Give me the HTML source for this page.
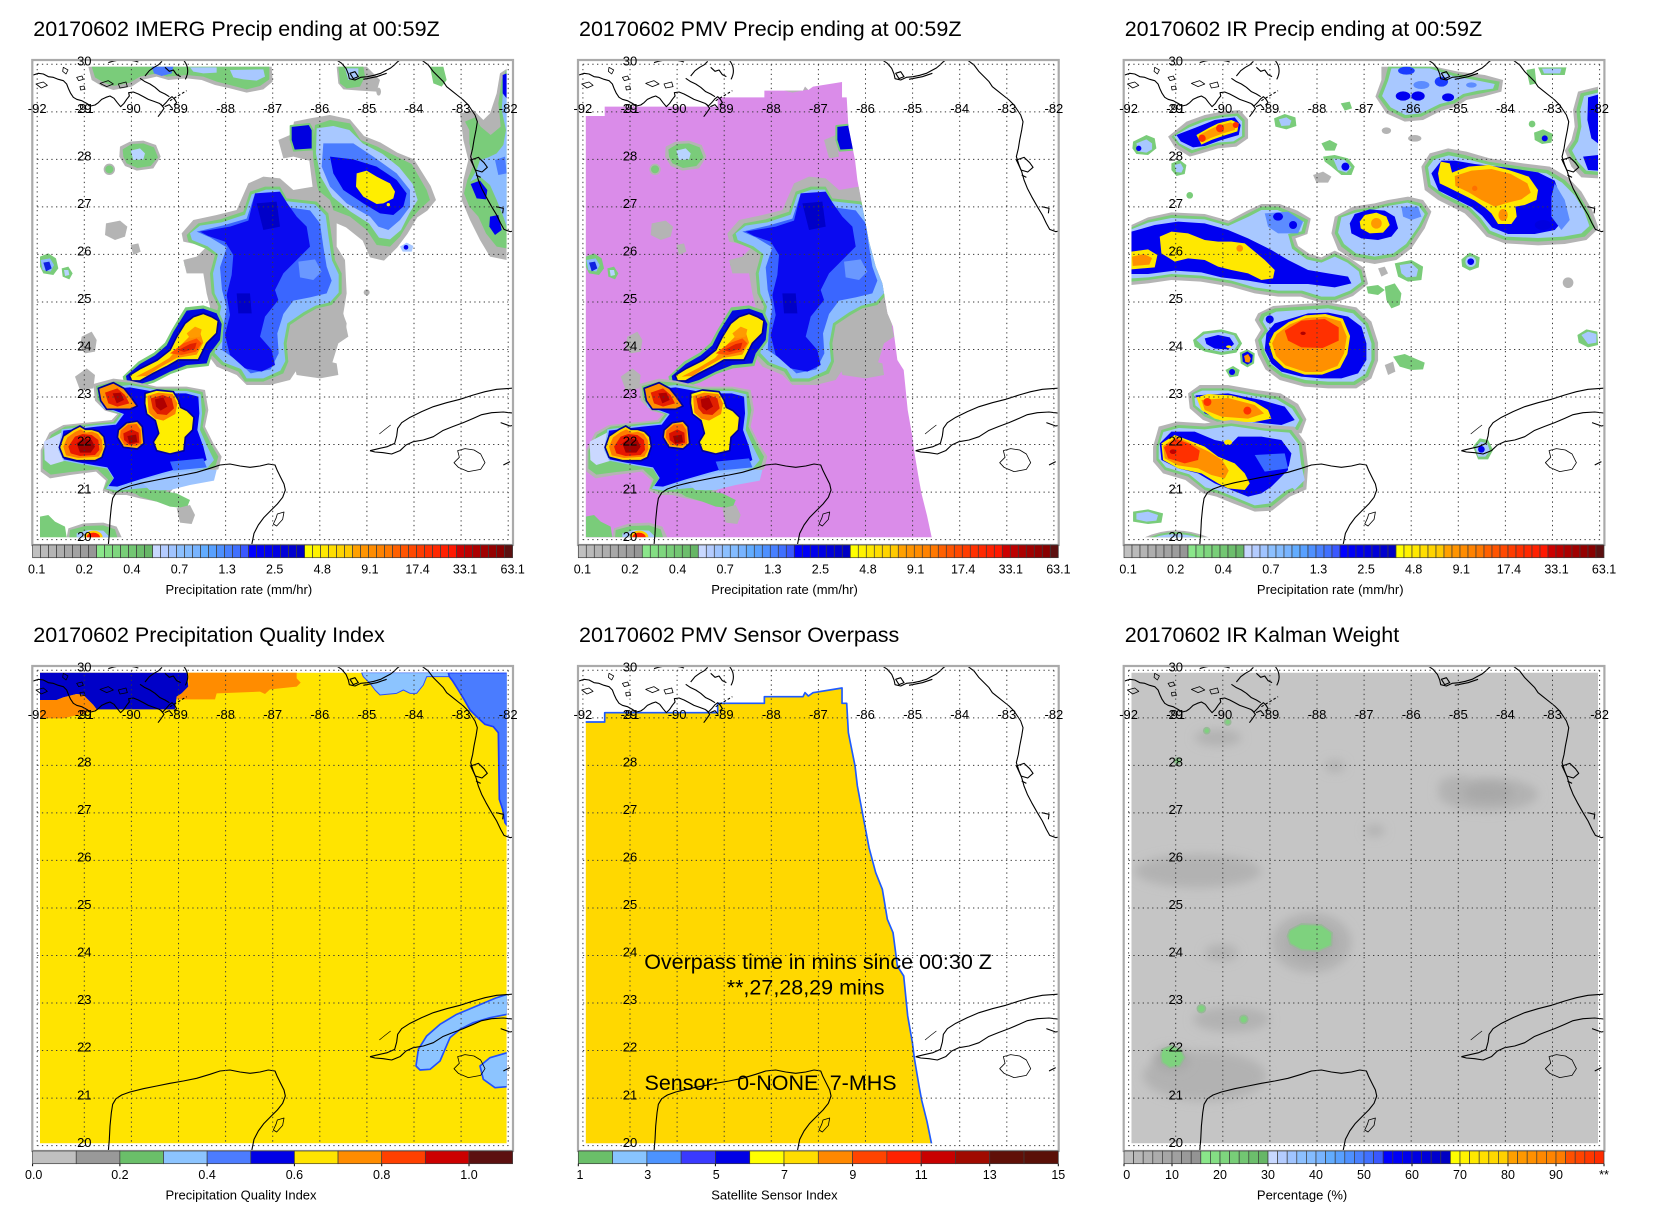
<!DOCTYPE html>
<html><head><meta charset="utf-8"><style>html,body{margin:0;padding:0;background:#fff}svg{display:block}</style></head><body>
<svg xmlns="http://www.w3.org/2000/svg" width="1653" height="1212" viewBox="0 0 1653 1212" font-family="'Liberation Sans', Arial, sans-serif">
<defs>
<clipPath id="dclip"><rect x="30" y="20" width="1400" height="1412"/></clipPath>
<clipPath id="cclip"><rect x="3" y="3" width="1443" height="1452"/></clipPath>
<clipPath id="swclip"><path d="M30,168 L87,168 L87,140 L426,140 L426,112 L566,112 L566,92 L682,92 L688,80 L698,90 L712,80 L799,66 L799,112 L813,112 L818,200 L838,300 L845,360 L862,450 L880,545 L900,620 L920,670 L935,760 L952,800 L965,900 L984,930 L996,1050 L1010,1130 L1016,1177 L1030,1260 L1038,1303 L1054,1367 L1068,1432 L30,1432 Z"/></clipPath>
<filter id="bl" x="-50%" y="-50%" width="200%" height="200%"><feGaussianBlur stdDeviation="14"/></filter>

<g id="coast" fill="none" stroke="#000" stroke-width="3.3" stroke-linejoin="round">
<path d="M10,45 L25,40 L40,42 L55,50 L70,52 L85,58 L100,62 L110,72 L115,85 L122,100 L130,112 L140,118 L155,122 L170,130 L182,138 L195,135 L205,128 L215,118 L228,112 L240,108 L252,115 L262,128 L272,140 L282,130 L290,118 L298,108 L296,98 L310,96 L325,102 L340,110 L355,118 L372,124 L388,130 L398,138 L408,128 L418,116 L426,110 L434,118 L440,128 L432,135"/>
<path d="M392,132 L402,145 L394,157 L384,170 M404,140 L418,134 L428,146"/>
<path d="M330,55 L345,65 L360,72 L375,82 L390,95 L405,102 L418,110"/>
<path d="M18,72 L40,66 L52,76 L34,84 Z M100,22 L114,30 L108,42 L98,34 Z M140,52 L156,48 L160,58 L146,62 Z M150,80 L162,78 L165,88 L152,90 Z M210,70 L235,62 L250,72 L230,80 Z M265,72 L288,66 L292,80 L270,84 Z" stroke-width="2.4"/>
<path d="M235,8 Q280,-8 325,6 M345,48 L358,32 L372,22 L386,14 L396,4 M405,22 L418,34 L430,30 L440,44 L452,50 M462,2 Q482,28 466,58"/>
<path d="M420,122 L470,92" stroke-dasharray="8 6"/>
<path d="M920,0 L935,10 L948,25 L955,42 L958,56 L975,60 L992,52 L1012,50 L1032,46 L1052,40 L1067,32 L1082,24 L1094,14 L1102,6 L1110,0"/>
<path d="M960,40 L975,35 L985,50 L970,56 Z M1000,58 L1040,50 L1070,40"/>
<path d="M1175,0 L1195,15 L1210,35 L1225,50 L1240,65 L1250,80 L1265,92 L1285,108 L1300,120 L1315,135 L1325,150 L1335,165 L1342,185 L1338,210 L1332,240 L1328,265 L1322,290 L1330,315 L1338,335 L1345,360 L1355,385 L1368,410 L1385,440 L1400,465 L1412,490 L1422,508 L1440,515 L1455,512"/>
<path d="M1322,300 L1345,292 L1362,308 L1372,322 L1356,336 L1336,330 Z M1338,345 L1352,352 M1398,440 L1420,445 L1418,460"/>
<path d="M235,1455 L238,1420 L240,1380 L244,1340 L248,1315 L258,1298 L275,1287 L300,1278 L340,1268 L380,1260 L420,1252 L460,1245 L500,1237 L540,1225 L570,1215 L600,1212 L630,1218 L660,1222 L690,1218 L715,1212 L735,1215 L742,1232 L752,1252 L762,1272 L766,1290 L758,1312 L742,1332 L722,1352 L702,1372 L685,1395 L672,1420 L665,1455"/>
<path d="M742,1362 L762,1356 L758,1378 L740,1398 L730,1392 L738,1375 Z" stroke-width="2.4"/>
<path d="M1020,1172 L1045,1166 L1072,1160 L1094,1150 L1100,1128 L1103,1105 L1115,1088 L1140,1072 L1175,1055 L1210,1040 L1250,1028 L1290,1018 L1330,1005 L1365,995 L1400,988 L1455,984"/>
<path d="M1455,1060 L1420,1056 L1385,1058 L1355,1064 L1330,1075 L1300,1088 L1268,1100 L1238,1112 L1210,1130 L1180,1140 L1150,1145 L1128,1155 L1110,1172 L1085,1182 L1060,1178 L1035,1176 L1020,1172"/>
<path d="M1048,1122 L1065,1108 L1082,1095" stroke-width="2"/>
<path d="M1412,1088 L1440,1098 L1455,1095 M1420,1215 L1440,1205"/>
<path d="M1283,1172 L1305,1166 L1332,1170 L1352,1182 L1365,1208 L1352,1228 L1315,1235 L1285,1222 L1272,1208 L1288,1192 Z" stroke-width="2.4"/>
</g>

<g id="grid" fill="none" stroke="#3a3a3a" stroke-width="1" stroke-dasharray="1.3 3.4">
<path d="M37.2,64.3V539.6M84.3,64.3V539.6M131.4,64.3V539.6M178.5,64.3V539.6M225.6,64.3V539.6M272.7,64.3V539.6M319.8,64.3V539.6M366.9,64.3V539.6M414,64.3V539.6M461.1,64.3V539.6M508.2,64.3V539.6"/>
<path d="M37.2,64.3H508.2M37.2,111.83H508.2M37.2,159.36H508.2M37.2,206.89H508.2M37.2,254.42H508.2M37.2,301.95H508.2M37.2,349.48H508.2M37.2,397.01H508.2M37.2,444.54H508.2M37.2,492.07H508.2M37.2,539.6H508.2"/>
</g>

<g id="box"><rect x="32.3" y="60" width="480.7" height="485" fill="none" stroke="#aaaaaa" stroke-width="2.2"/></g>

<g id="cbP" stroke="#3c3c3c" stroke-width="0.7">
<rect x="32.6" y="545" width="8" height="12.7" fill="#c0c0c0"/><rect x="40.6" y="545" width="8" height="12.7" fill="#bababa"/><rect x="48.6" y="545" width="8" height="12.7" fill="#b4b4b4"/><rect x="56.6" y="545" width="8" height="12.7" fill="#aeaeae"/><rect x="64.6" y="545" width="8" height="12.7" fill="#a8a8a8"/><rect x="72.6" y="545" width="8" height="12.7" fill="#a2a2a2"/><rect x="80.6" y="545" width="8" height="12.7" fill="#9c9c9c"/><rect x="88.6" y="545" width="8" height="12.7" fill="#969696"/>
<rect x="96.6" y="545" width="8" height="12.7" fill="#8ae68a"/><rect x="104.6" y="545" width="8" height="12.7" fill="#84de84"/><rect x="112.6" y="545" width="8" height="12.7" fill="#7ed67e"/><rect x="120.6" y="545" width="8" height="12.7" fill="#78ce78"/><rect x="128.6" y="545" width="8" height="12.7" fill="#72c672"/><rect x="136.6" y="545" width="8" height="12.7" fill="#6cbe6c"/><rect x="144.6" y="545" width="8" height="12.7" fill="#66b666"/>
<rect x="152.6" y="545" width="8" height="12.7" fill="#c8d8ff"/><rect x="160.6" y="545" width="8" height="12.7" fill="#b4ccff"/><rect x="168.6" y="545" width="8" height="12.7" fill="#a0c4ff"/><rect x="176.6" y="545" width="8" height="12.7" fill="#8cc0ff"/><rect x="184.6" y="545" width="8" height="12.7" fill="#84bcff"/><rect x="192.6" y="545" width="8" height="12.7" fill="#78b4ff"/><rect x="200.6" y="545" width="8" height="12.7" fill="#62acff"/><rect x="208.6" y="545" width="8" height="12.7" fill="#58a0ff"/><rect x="216.6" y="545" width="8" height="12.7" fill="#4e90ff"/><rect x="224.6" y="545" width="8" height="12.7" fill="#4880ff"/><rect x="232.6" y="545" width="8" height="12.7" fill="#4070ff"/><rect x="240.6" y="545" width="8" height="12.7" fill="#3a58ff"/>
<rect x="248.6" y="545" width="8" height="12.7" fill="#0000ff"/><rect x="256.6" y="545" width="8" height="12.7" fill="#0000f6"/><rect x="264.6" y="545" width="8" height="12.7" fill="#0000ec"/><rect x="272.6" y="545" width="8" height="12.7" fill="#0000e2"/><rect x="280.6" y="545" width="8" height="12.7" fill="#0000d8"/><rect x="288.6" y="545" width="8" height="12.7" fill="#0000ce"/><rect x="296.6" y="545" width="8" height="12.7" fill="#0000c4"/>
<rect x="304.6" y="545" width="8" height="12.7" fill="#ffff00"/><rect x="312.6" y="545" width="8" height="12.7" fill="#fff200"/><rect x="320.6" y="545" width="8" height="12.7" fill="#ffe800"/><rect x="328.6" y="545" width="8" height="12.7" fill="#ffde00"/><rect x="336.6" y="545" width="8" height="12.7" fill="#ffd400"/><rect x="344.6" y="545" width="8" height="12.7" fill="#ffca00"/>
<rect x="352.6" y="545" width="8" height="12.7" fill="#ffa000"/><rect x="360.6" y="545" width="8" height="12.7" fill="#ff9400"/><rect x="368.6" y="545" width="8" height="12.7" fill="#ff8c00"/><rect x="376.6" y="545" width="8" height="12.7" fill="#ff8200"/><rect x="384.6" y="545" width="8" height="12.7" fill="#ff7800"/>
<rect x="392.6" y="545" width="8" height="12.7" fill="#ff6000"/><rect x="400.6" y="545" width="8" height="12.7" fill="#ff5400"/><rect x="408.6" y="545" width="8" height="12.7" fill="#ff4800"/><rect x="416.6" y="545" width="8" height="12.7" fill="#ff3c00"/><rect x="424.6" y="545" width="8" height="12.7" fill="#ff3000"/><rect x="432.6" y="545" width="8" height="12.7" fill="#ff2800"/><rect x="440.6" y="545" width="8" height="12.7" fill="#ff2000"/><rect x="448.6" y="545" width="8" height="12.7" fill="#ff1800"/>
<rect x="456.6" y="545" width="8" height="12.7" fill="#cc0000"/><rect x="464.6" y="545" width="8" height="12.7" fill="#bc0000"/><rect x="472.6" y="545" width="8" height="12.7" fill="#ac0000"/><rect x="480.6" y="545" width="8" height="12.7" fill="#a00000"/><rect x="488.6" y="545" width="8" height="12.7" fill="#940000"/><rect x="496.6" y="545" width="8" height="12.7" fill="#880000"/><rect x="504.6" y="545" width="8" height="12.7" fill="#5c1010"/>
</g>

<g id="main" stroke-linejoin="round">
<path fill="#b4b4b4" d="M175,20 L725,20 L728,65 L700,88 L650,98 L600,85 L555,75 L515,60 L470,55 L415,60 L380,50 L335,60 L305,80 L250,90 L215,78 L185,60 Z"/>
<path fill="#7acc7a" d="M185,20 L718,20 L718,58 L690,78 L650,88 L600,75 L560,65 L520,50 L470,45 L410,50 L380,40 L330,50 L300,68 L250,78 L222,68 L195,52 Z"/>
<path fill="#a8c8ff" d="M600,30 L700,28 L705,50 L680,62 L640,58 L610,52 Z"/>
<path fill="#a8c8ff" d="M480,22 L560,22 L560,38 L520,40 L490,35 Z"/>
<path fill="#4a78ff" d="M365,20 L430,20 L425,40 L395,48 L372,40 Z"/>
<path fill="#b4b4b4" d="M270,260 L300,245 L340,242 L378,255 L392,290 L370,325 L320,332 L285,318 L268,290 Z"/>
<path fill="#7acc7a" d="M278,268 L305,252 L340,250 L372,262 L384,292 L362,318 L322,324 L290,310 L280,290 Z"/>
<path fill="#b8d4ff" d="M302,272 L330,265 L345,280 L340,298 L310,300 Z"/>
<circle fill="#b4b4b4" cx="238" cy="328" r="17"/><circle fill="#7acc7a" cx="238" cy="328" r="12"/>
<path fill="#b4b4b4" d="M228,490 L270,482 L292,500 L285,530 L255,540 L225,525 Z"/>
<path fill="#b4b4b4" d="M302,555 L325,550 L332,575 L310,585 Z"/>
<path fill="#7acc7a" d="M30,590 L55,580 L78,595 L85,625 L70,645 L40,640 L30,620 Z"/>
<path fill="#8cb8ff" d="M32,600 L60,595 L72,615 L62,635 L38,630 Z"/>
<path fill="#1020e0" d="M40,608 L58,605 L65,625 L48,634 Z"/>
<path fill="#7acc7a" d="M95,625 L115,620 L128,640 L118,658 L98,650 Z"/>
<path fill="#b8d4ff" d="M102,630 L115,630 L118,645 L105,648 Z"/>
<circle fill="#7acc7a" cx="475" cy="612" r="12"/>
<path fill="#b4b4b4" d="M155,830 L185,815 L200,840 L195,875 L165,880 L150,860 Z"/>
<path fill="#b4b4b4" d="M135,950 L170,925 L195,945 L190,985 L150,990 Z"/>
<path fill="#b4b4b4" d="M890,755 L935,750 L950,790 L945,830 L905,835 L892,800 Z"/>
<path fill="#b4b4b4" d="M790,905 L860,895 L920,910 L925,945 L870,955 L800,945 Z"/>
<path fill="#b4b4b4" d="M745,240 L780,225 L790,290 L760,295 Z"/>
<path fill="#0000e0" stroke="#7acc7a" stroke-width="6" d="M782,198 L838,192 L848,210 L848,268 L792,272 L782,240 Z"/>
<path fill="#b4b4b4" d="M455,520 L490,480 L560,465 L620,450 L655,370 L700,350 L750,355 L790,390 L850,380 L900,420 L920,480 L920,560 L945,600 L950,700 L940,760 L955,830 L925,850 L900,930 L870,950 L800,930 L780,960 L720,975 L650,975 L620,945 L560,920 L530,880 L540,820 L540,740 L530,700 L520,640 L470,640 L460,600 L500,590 L530,560 L460,545 Z"/>
<path fill="#7acc7a" d="M470,525 L505,490 L570,478 L640,455 L660,395 L705,380 L750,380 L770,415 L860,425 L895,460 L905,530 L915,600 L935,640 L935,700 L905,735 L860,745 L825,765 L780,795 L770,850 L775,905 L760,940 L700,965 L645,965 L625,935 L575,915 L545,885 L553,820 L555,780 L565,740 L545,700 L540,640 L555,585 L525,565 L475,545 Z"/>
<path fill="#8cbcff" d="M480,520 L510,497 L575,487 L645,464 L665,403 L708,389 L748,389 L764,423 L855,433 L887,466 L896,533 L906,601 L926,643 L926,698 L900,727 L857,737 L820,757 L772,790 L761,850 L766,903 L751,932 L700,955 L650,955 L633,927 L581,907 L554,879 L562,820 L564,780 L574,740 L554,700 L549,640 L564,583 L533,559 L486,540 Z"/>
<path fill="#3a66ff" d="M500,515 L580,496 L650,476 L672,410 L745,401 L760,440 L840,451 L870,490 L880,560 L890,620 L905,662 L890,700 L840,712 L790,722 L760,762 L742,820 L746,880 L722,928 L662,940 L622,902 L576,870 L580,800 L590,742 L576,690 L570,622 L590,562 L540,532 Z"/>
<path fill="#0a0af0" d="M510,515 L600,500 L655,482 L675,400 L750,395 L772,430 L800,470 L830,500 L840,560 L800,600 L760,640 L735,690 L745,720 L705,770 L690,830 L725,870 L735,915 L695,935 L645,925 L600,885 L585,825 L600,765 L590,705 L605,645 L610,585 L585,545 L535,528 Z"/>
<path fill="#6a98ff" d="M805,605 L855,598 L875,635 L850,660 L810,652 Z"/>
<path fill="#0000c8" d="M620,700 L660,700 L665,760 L625,760 Z"/>
<path fill="#0000c8" d="M680,430 L740,425 L750,500 L700,510 Z"/>
<path fill="#7acc7a" d="M278,950 L325,905 L372,878 L405,848 L425,810 L450,768 L466,742 L520,736 L565,752 L582,790 L576,845 L546,885 L536,918 L472,925 L422,942 L372,968 L325,982 L284,978 Z"/>
<path fill="#0008e0" d="M288,948 L330,912 L375,886 L410,856 L430,816 L455,776 L470,752 L520,746 L560,760 L575,792 L570,840 L540,880 L530,910 L470,915 L420,935 L370,960 L325,974 L292,970 Z"/>
<path fill="#ffe800" stroke="#00009a" stroke-width="5" d="M298,946 L332,925 L382,900 L420,870 L440,830 L465,790 L490,770 L520,760 L545,770 L565,782 L560,820 L530,850 L515,880 L505,900 L445,900 L410,920 L370,940 L330,963 L305,963 Z"/>
<path fill="#ff8c00" d="M318,950 L368,924 L418,894 L448,860 L478,830 L508,810 L520,848 L500,884 L440,894 L390,922 L350,948 Z"/>
<path fill="#ff9a00" d="M470,820 L495,800 L515,808 L510,830 L480,835 Z"/>
<path fill="#ff5000" d="M420,880 L460,850 L500,835 L515,850 L498,875 L455,885 Z"/>
<path fill="#e02000" d="M445,870 L480,852 L500,848 L495,866 L462,876 Z"/>
<path fill="#b4b4b4" d="M100,1095 L200,1085 L245,1080 L262,1062 L225,1052 L195,1022 L190,972 L250,956 L300,962 L380,980 L470,980 L525,990 L535,1050 L525,1100 L550,1150 L575,1190 L565,1228 L500,1240 L462,1250 L422,1295 L380,1325 L330,1315 L290,1305 L250,1305 L218,1292 L228,1262 L198,1235 L120,1245 L60,1255 L32,1235 L32,1170 L58,1118 Z"/>
<path fill="#7acc7a" d="M105,1100 L200,1090 L250,1086 L268,1062 L228,1048 L202,1018 L198,978 L252,964 L300,968 L380,986 L470,986 L518,996 L527,1050 L518,1100 L542,1150 L565,1190 L555,1222 L498,1232 L458,1242 L418,1285 L378,1315 L332,1305 L292,1295 L252,1297 L222,1286 L234,1258 L202,1228 L122,1236 L62,1244 L38,1226 L38,1172 L64,1124 Z"/>
<path fill="#cad8ff" d="M42,1145 L100,1115 L112,1200 L62,1215 L44,1200 Z"/>
<path fill="#8cbcff" d="M95,1108 L200,1095 L255,1090 L276,1062 L215,1042 L208,985 L300,975 L400,993 L470,993 L512,1003 L516,1060 L510,1110 L532,1160 L552,1200 L532,1224 L472,1235 L412,1252 L400,1280 L330,1285 L262,1292 L228,1286 L250,1256 L232,1226 L150,1212 L100,1202 L85,1170 Z"/>
<path fill="#0000f0" d="M100,1112 L200,1100 L258,1094 L282,1062 L222,1040 L216,990 L300,982 L400,1000 L468,1000 L505,1010 L508,1060 L502,1110 L520,1160 L530,1200 L500,1215 L460,1222 L400,1238 L330,1258 L262,1280 L236,1278 L252,1254 L232,1222 L150,1208 L102,1198 L90,1170 Z"/>
<path fill="#9cc4ff" d="M330,1262 L420,1240 L520,1228 L560,1230 L552,1262 L480,1275 L420,1290 L360,1292 Z"/>
<path fill="#3a6cff" d="M420,1205 L520,1195 L530,1222 L430,1232 Z"/>
<path fill="#ffd000" stroke="#00009a" stroke-width="5" d="M88,1162 L100,1128 L130,1108 L150,1098 L166,1108 L186,1108 L206,1114 L222,1130 L227,1160 L216,1192 L196,1202 L140,1202 L100,1192 Z"/>
<path fill="#ff7a00" d="M100,1160 L112,1132 L135,1116 L152,1108 L168,1118 L186,1115 L204,1122 L216,1140 L218,1168 L206,1190 L145,1194 L108,1186 Z"/>
<path fill="#e81800" d="M115,1160 L135,1130 L158,1122 L185,1125 L205,1140 L208,1170 L195,1185 L150,1188 L122,1180 Z"/>
<path fill="#a00000" d="M140,1150 L160,1135 L185,1140 L195,1160 L182,1178 L150,1178 Z"/>
<path fill="#ff9000" stroke="#00009a" stroke-width="5" d="M205,985 L250,968 L282,985 L302,1010 L322,1038 L300,1048 L230,1048 L212,1022 Z"/>
<path fill="#e82000" d="M225,998 L262,985 L285,1005 L298,1030 L262,1040 L235,1030 Z"/>
<path fill="#b00000" d="M248,1000 L272,998 L282,1020 L260,1030 Z"/>
<path fill="#ffb000" stroke="#00009a" stroke-width="5" d="M265,1110 L290,1088 L322,1083 L337,1100 L342,1150 L322,1167 L280,1162 L262,1132 Z"/>
<path fill="#ff6000" d="M272,1112 L294,1094 L320,1092 L332,1110 L334,1150 L318,1158 L284,1155 L270,1132 Z"/>
<path fill="#d81000" d="M280,1120 L305,1108 L326,1118 L328,1148 L300,1155 L282,1140 Z"/>
<path fill="#a00000" d="M292,1128 L318,1124 L322,1146 L298,1150 Z"/>
<path fill="#ffee00" stroke="#00009a" stroke-width="5" d="M345,1000 L380,990 L430,995 L445,1020 L452,1042 L472,1052 L492,1072 L488,1110 L466,1132 L462,1172 L420,1182 L380,1172 L370,1146 L386,1120 L376,1082 L350,1062 L344,1030 Z"/>
<path fill="#ff8000" d="M352,1008 L385,998 L428,1002 L442,1030 L436,1062 L400,1082 L376,1076 L356,1058 Z"/>
<path fill="#e02000" d="M362,1015 L398,1005 L425,1015 L432,1045 L410,1065 L382,1062 L368,1045 Z"/>
<path fill="#b00000" d="M375,1018 L400,1012 L412,1040 L392,1052 L378,1040 Z"/>
<path fill="#7acc7a" d="M300,1290 L380,1290 L440,1300 L480,1320 L470,1345 L420,1340 L380,1325 L330,1310 Z"/>
<path fill="#b4b4b4" d="M440,1345 L480,1335 L495,1365 L485,1392 L450,1388 Z"/>
<path fill="#7acc7a" d="M30,1370 L55,1365 L75,1385 L105,1400 L110,1432 L30,1432 Z"/>
<path fill="#b4b4b4" d="M115,1405 L160,1390 L220,1388 L260,1400 L275,1432 L110,1432 Z"/>
<path fill="#7acc7a" d="M120,1410 L165,1398 L220,1396 L255,1408 L262,1432 L118,1432 Z"/>
<path fill="#a8c8ff" d="M140,1420 L175,1410 L220,1412 L240,1432 L140,1432 Z"/>
<path fill="#ffd000" d="M162,1432 A28,20 0 0 1 218,1432 Z"/>
<path fill="#ff2000" d="M170,1432 A20,14 0 0 1 210,1432 Z"/>
</g>

<g id="ne" stroke-linejoin="round">
<path fill="#b4b4b4" d="M790,290 L778,255 L792,185 L840,175 L900,165 L960,178 L1002,228 L1052,248 L1102,278 L1152,298 L1202,378 L1218,420 L1192,452 L1162,472 L1132,522 L1102,562 L1062,602 L1020,592 L998,542 L948,502 L878,472 L848,382 L838,302 Z"/>
<path fill="#7acc7a" d="M850,300 L848,262 L855,195 L900,180 L960,190 L992,240 L1042,260 L1100,290 L1145,312 L1190,390 L1200,420 L1167,450 L1140,480 L1110,530 L1080,560 L1040,555 L1010,510 L960,470 L882,440 L862,380 Z"/>
<path fill="#a8c8ff" d="M858,280 L860,205 L910,198 L958,210 L998,250 L1058,282 L1108,322 L1148,372 L1163,420 L1138,460 L1113,510 L1080,538 L1047,533 L1017,490 L962,455 L907,410 L872,350 Z"/>
<path fill="#4a7cff" d="M880,250 L970,250 L1030,290 L1100,340 L1140,390 L1140,440 L1110,480 L1075,510 L1045,500 L1020,470 L950,430 L900,380 L875,320 Z"/>
<path fill="#0000f0" d="M900,290 L970,298 L1040,320 L1100,360 L1130,400 L1120,440 L1090,465 L1050,460 L1000,430 L940,390 L910,340 Z"/>
<path fill="#ffee00" d="M980,340 L1010,332 L1040,350 L1080,370 L1095,395 L1090,415 L1060,430 L1040,432 L1000,410 L978,380 Z"/>
<circle fill="#ffee00" cx="1075" cy="434" r="5"/>
<path fill="#a8c8ff" d="M1110,560 L1130,548 L1150,558 L1145,575 L1118,575 Z"/><circle fill="#0000f0" cx="1128" cy="562" r="7"/>
<path fill="#b4b4b4" d="M920,20 L1010,20 L1050,60 L1040,95 L990,92 L940,88 L925,70 Z"/>
<path fill="#7acc7a" d="M925,20 L1000,20 L1005,50 L990,80 L950,85 L930,70 Z"/>
<path fill="#a8c8ff" d="M945,25 L985,25 L985,55 L955,60 Z"/>
<ellipse fill="#b4b4b4" cx="1046" cy="95" rx="7" ry="12"/>
<circle fill="#b4b4b4" cx="1010" cy="697" r="9"/>
<path fill="#7acc7a" d="M1200,20 L1240,20 L1250,60 L1235,80 L1210,70 Z"/>
</g>

<g id="fl" stroke-linejoin="round">
<path fill="#b4b4b4" d="M1290,160 L1330,150 L1360,180 L1380,160 L1400,100 L1410,40 L1440,20 L1430,20 L1430,600 L1380,590 L1350,540 L1320,480 L1295,420 L1300,360 L1315,300 L1300,240 L1295,200 Z"/>
<path fill="#7acc7a" d="M1305,185 L1335,172 L1352,200 L1382,225 L1412,200 L1405,130 L1415,60 L1430,28 L1430,565 L1400,560 L1368,520 L1345,470 L1318,440 L1302,400 L1312,360 L1332,310 L1318,250 L1318,210 Z"/>
<path fill="#8cbcff" d="M1320,365 L1350,350 L1380,375 L1400,420 L1420,470 L1430,500 L1430,40 L1420,80 L1415,150 L1428,210 L1420,255 L1400,280 L1375,292 L1350,300 L1340,330 Z"/>
<path fill="#0000f0" d="M1322,372 L1350,362 L1372,390 L1368,418 L1340,415 Z"/>
<path fill="#0000f0" d="M1380,470 L1405,465 L1415,510 L1395,525 L1378,500 Z"/>
<path fill="#0000f0" d="M1418,45 L1430,40 L1430,115 L1418,100 Z"/>
<path fill="#4a7cff" d="M1395,300 L1425,290 L1430,340 L1405,345 Z"/>
</g>
</defs>

<!-- PANEL 1 -->
<g>
<text x="33.3" y="36" font-size="21.5">20170602 IMERG Precip ending at 00:59Z</text>
<g transform="translate(30,60) scale(0.333333)">
<g clip-path="url(#dclip)"><use href="#ne"/><use href="#fl"/><use href="#main"/></g>
<g clip-path="url(#cclip)"><use href="#coast"/></g>
</g>
<use href="#grid"/><use href="#box"/>
<text font-size="13" text-anchor="middle"><tspan x="84.3" y="65.5">30</tspan><tspan x="84.3" y="113">29</tspan><tspan x="84.3" y="160.6">28</tspan><tspan x="84.3" y="208.1">27</tspan><tspan x="84.3" y="255.6">26</tspan><tspan x="84.3" y="303.2">25</tspan><tspan x="84.3" y="350.7">24</tspan><tspan x="84.3" y="398.2">23</tspan><tspan x="84.3" y="445.7">22</tspan><tspan x="84.3" y="493.3">21</tspan><tspan x="84.3" y="540.8">20</tspan></text>
<text font-size="13" text-anchor="middle"><tspan x="37.2" y="113">-92</tspan><tspan x="84.3" y="113">-91</tspan><tspan x="131.4" y="113">-90</tspan><tspan x="178.5" y="113">-89</tspan><tspan x="225.6" y="113">-88</tspan><tspan x="272.7" y="113">-87</tspan><tspan x="319.8" y="113">-86</tspan><tspan x="366.9" y="113">-85</tspan><tspan x="414" y="113">-84</tspan><tspan x="461.1" y="113">-83</tspan><tspan x="508.2" y="113">-82</tspan></text>
<use href="#cbP"/>
<text font-size="12.5" text-anchor="middle"><tspan x="36.7" y="573.5">0.1</tspan><tspan x="84.3" y="573.5">0.2</tspan><tspan x="131.9" y="573.5">0.4</tspan><tspan x="179.5" y="573.5">0.7</tspan><tspan x="227.1" y="573.5">1.3</tspan><tspan x="274.7" y="573.5">2.5</tspan><tspan x="322.3" y="573.5">4.8</tspan><tspan x="369.9" y="573.5">9.1</tspan><tspan x="417.5" y="573.5">17.4</tspan><tspan x="465.1" y="573.5">33.1</tspan><tspan x="512.7" y="573.5">63.1</tspan></text>
<text x="165.5" y="593.8" font-size="13">Precipitation rate (mm/hr)</text>
</g>

<!-- PANEL 2 -->
<g transform="translate(545.7,0)">
<text x="33.3" y="36" font-size="21.5">20170602 PMV Precip ending at 00:59Z</text>
<g transform="translate(30,60) scale(0.333333)">
<g clip-path="url(#dclip)">
<path fill="#da8ce9" d="M30,168 L87,168 L87,140 L426,140 L426,112 L566,112 L566,92 L682,92 L688,80 L698,90 L712,80 L799,66 L799,112 L813,112 L818,200 L838,300 L845,360 L862,450 L880,545 L900,620 L920,670 L935,760 L952,800 L965,900 L984,930 L996,1050 L1010,1130 L1016,1177 L1030,1260 L1038,1303 L1054,1367 L1068,1432 L30,1432 Z"/>
<g clip-path="url(#swclip)"><use href="#main"/></g>
</g>
<g clip-path="url(#cclip)"><use href="#coast"/></g>
</g>
<use href="#grid"/><use href="#box"/>
<text font-size="13" text-anchor="middle"><tspan x="84.3" y="65.5">30</tspan><tspan x="84.3" y="113">29</tspan><tspan x="84.3" y="160.6">28</tspan><tspan x="84.3" y="208.1">27</tspan><tspan x="84.3" y="255.6">26</tspan><tspan x="84.3" y="303.2">25</tspan><tspan x="84.3" y="350.7">24</tspan><tspan x="84.3" y="398.2">23</tspan><tspan x="84.3" y="445.7">22</tspan><tspan x="84.3" y="493.3">21</tspan><tspan x="84.3" y="540.8">20</tspan></text>
<text font-size="13" text-anchor="middle"><tspan x="37.2" y="113">-92</tspan><tspan x="84.3" y="113">-91</tspan><tspan x="131.4" y="113">-90</tspan><tspan x="178.5" y="113">-89</tspan><tspan x="225.6" y="113">-88</tspan><tspan x="272.7" y="113">-87</tspan><tspan x="319.8" y="113">-86</tspan><tspan x="366.9" y="113">-85</tspan><tspan x="414" y="113">-84</tspan><tspan x="461.1" y="113">-83</tspan><tspan x="508.2" y="113">-82</tspan></text>
<use href="#cbP"/>
<text font-size="12.5" text-anchor="middle"><tspan x="36.7" y="573.5">0.1</tspan><tspan x="84.3" y="573.5">0.2</tspan><tspan x="131.9" y="573.5">0.4</tspan><tspan x="179.5" y="573.5">0.7</tspan><tspan x="227.1" y="573.5">1.3</tspan><tspan x="274.7" y="573.5">2.5</tspan><tspan x="322.3" y="573.5">4.8</tspan><tspan x="369.9" y="573.5">9.1</tspan><tspan x="417.5" y="573.5">17.4</tspan><tspan x="465.1" y="573.5">33.1</tspan><tspan x="512.7" y="573.5">63.1</tspan></text>
<text x="165.5" y="593.8" font-size="13">Precipitation rate (mm/hr)</text>
</g>

<!-- PANEL 3 -->
<g transform="translate(1091.4,0)">
<text x="33.3" y="36" font-size="21.5">20170602 IR Precip ending at 00:59Z</text>
<g transform="translate(30,60) scale(0.333333)">
<g clip-path="url(#dclip)" stroke-linejoin="round">
<path fill="#b4b4b4" d="M140,230 L195,185 L250,165 L300,155 L355,150 L380,178 L380,235 L345,260 L290,265 L240,280 L205,290 L160,262 Z"/>
<path fill="#7acc7a" d="M150,230 L200,195 L250,175 L300,165 L350,160 L370,180 L370,230 L340,250 L290,255 L240,270 L210,280 L170,255 Z"/>
<path fill="#a8c8ff" d="M158,228 L204,202 L252,183 L300,172 L346,168 L362,184 L362,228 L336,244 L288,248 L240,262 L212,270 L174,250 Z"/>
<path fill="#0000f0" d="M165,225 L230,200 L280,180 L340,172 L358,195 L352,225 L300,240 L250,258 L215,262 L178,244 Z"/>
<path fill="#ffe800" d="M225,225 L260,205 L290,190 L330,180 L352,190 L348,214 L310,226 L270,240 L240,254 Z"/>
<path fill="#ff9a00" d="M232,226 L262,210 L292,196 L328,187 L344,195 L340,210 L305,220 L268,234 L244,246 Z"/>
<circle fill="#ff3000" cx="242" cy="235" r="11"/><circle fill="#ff3000" cx="296" cy="205" r="12"/><circle fill="#ff3000" cx="343" cy="195" r="9"/>
<path fill="#7acc7a" d="M35,245 L75,225 L100,235 L105,265 L80,285 L45,282 L33,265 Z"/>
<path fill="#a8c8ff" d="M45,250 L75,238 L92,250 L92,268 L75,278 L50,274 Z"/><circle fill="#0000f0" cx="52" cy="265" r="8"/>
<path fill="#7acc7a" d="M150,310 L175,300 L195,315 L190,342 L165,348 L150,330 Z"/>
<path fill="#a8c8ff" d="M160,315 L178,310 L186,325 L180,338 L164,336 Z"/>
<path fill="#7acc7a" d="M458,175 L490,162 L522,172 L525,198 L495,208 L462,200 Z"/>
<path fill="#a8c8ff" d="M472,178 L495,172 L510,182 L505,196 L480,198 Z"/>
<path fill="#7acc7a" d="M600,250 L625,240 L648,252 L640,272 L612,272 Z"/>
<path fill="#7acc7a" d="M605,290 L640,285 L680,295 L700,320 L690,345 L660,345 L630,320 L610,305 Z"/>
<path fill="#a8c8ff" d="M635,295 L670,300 L690,322 L675,338 L650,330 Z"/><circle fill="#0000f0" cx="672" cy="320" r="12"/>
<path fill="#b4b4b4" d="M575,345 L605,335 L630,350 L620,368 L585,368 Z"/>
<path fill="#7acc7a" d="M658,130 L685,125 L692,145 L670,152 Z"/>
<ellipse fill="#b4b4b4" cx="795" cy="212" rx="14" ry="10"/><ellipse fill="#b4b4b4" cx="880" cy="235" rx="20" ry="10"/>
<circle fill="#7acc7a" cx="205" cy="406" r="10"/>
<path fill="#b4b4b4" d="M780,20 L940,20 L1010,35 L1090,45 L1145,60 L1140,95 L1085,110 L1035,120 L1005,140 L960,152 L905,180 L850,185 L795,160 L762,110 L780,60 Z"/>
<path fill="#7acc7a" d="M800,20 L930,20 L1000,40 L1080,55 L1135,65 L1130,90 L1080,100 L1030,110 L1000,130 L960,140 L900,170 L850,175 L800,150 L770,110 L790,60 Z"/>
<path fill="#a8c8ff" d="M810,25 L925,25 L995,48 L1070,62 L1120,72 L1115,86 L1070,92 L1025,102 L995,122 L955,132 L898,160 L852,165 L808,142 L782,108 L800,62 Z"/>
<ellipse fill="#5c8cff" cx="900" cy="75" rx="24" ry="12"/><ellipse fill="#5c8cff" cx="1050" cy="75" rx="16" ry="8"/>
<ellipse fill="#0000f0" cx="845" cy="108" rx="22" ry="14"/><ellipse fill="#0000f0" cx="890" cy="108" rx="20" ry="14"/><ellipse fill="#1a3cff" cx="960" cy="65" rx="20" ry="15"/><ellipse fill="#0000f0" cx="980" cy="112" rx="18" ry="12"/><ellipse fill="#1a3cff" cx="855" cy="32" rx="25" ry="12"/>
<path fill="#b4b4b4" d="M900,320 L925,280 L980,265 L1035,275 L1105,295 L1205,310 L1285,320 L1340,352 L1380,395 L1412,450 L1432,505 L1395,540 L1330,552 L1250,556 L1150,550 L1095,530 L1060,490 L1030,460 L990,440 L950,420 L910,390 Z"/>
<path fill="#7acc7a" d="M910,320 L930,290 L980,275 L1030,285 L1100,305 L1200,320 L1280,330 L1330,360 L1370,400 L1400,450 L1420,500 L1390,530 L1330,540 L1250,545 L1150,540 L1100,520 L1070,480 L1040,450 L1000,430 L960,410 L920,380 Z"/>
<path fill="#a8c8ff" d="M920,322 L938,298 L982,286 L1030,296 L1100,314 L1198,330 L1275,340 L1322,368 L1360,406 L1388,452 L1404,498 L1380,520 L1326,530 L1250,534 L1152,530 L1106,512 L1078,474 L1046,442 L1004,420 L966,402 L928,374 Z"/>
<path fill="#0000f0" d="M930,340 L960,302 L1000,302 L1060,312 L1150,322 L1250,337 L1300,362 L1320,420 L1335,470 L1300,510 L1240,522 L1160,522 L1112,502 L1082,467 L1052,442 L1002,417 L952,392 Z"/>
<path fill="#5c8cff" d="M1300,370 L1330,420 L1345,480 L1320,510 L1290,470 L1290,410 Z"/>
<ellipse fill="#0000e0" cx="1265" cy="495" rx="25" ry="15"/>
<path fill="#ffe800" d="M950,340 L958,305 L985,310 L992,338 L1012,330 L1042,320 L1102,315 L1162,330 L1222,350 L1250,390 L1245,420 L1210,435 L1182,440 L1186,470 L1170,492 L1130,492 L1110,460 L1090,442 L1060,422 L1020,402 L980,382 L955,370 Z"/>
<path fill="#ff9000" d="M1000,348 L1050,332 L1110,327 L1168,342 L1218,370 L1228,398 L1200,418 L1160,428 L1120,440 L1080,420 L1040,396 L1002,378 Z"/>
<ellipse fill="#ff9000" cx="1145" cy="465" rx="14" ry="18"/>
<circle fill="#ff7000" cx="1060" cy="385" r="8"/>
<path fill="#b4b4b4" d="M1370,95 L1430,80 L1430,355 L1380,352 L1350,320 L1330,272 L1350,240 L1360,200 L1355,150 Z"/>
<path fill="#7acc7a" d="M1378,100 L1430,88 L1430,345 L1390,342 L1360,312 L1340,270 L1360,240 L1370,200 L1365,150 Z"/>
<path fill="#a8c8ff" d="M1388,108 L1430,98 L1430,335 L1395,332 L1370,306 L1352,272 L1370,244 L1380,200 L1376,152 Z"/>
<path fill="#0000f0" d="M1400,112 L1430,104 L1430,250 L1410,235 L1398,180 Z"/>
<path fill="#0000f0" d="M1385,290 L1430,285 L1430,332 L1400,330 Z"/>
<path fill="#7acc7a" d="M1238,218 L1265,208 L1295,222 L1290,248 L1262,252 L1240,240 Z"/><circle fill="#0000f0" cx="1270" cy="235" r="9"/>
<circle fill="#7acc7a" cx="1232" cy="192" r="10"/>
<path fill="#7acc7a" d="M1215,30 L1240,25 L1245,70 L1225,75 Z"/>
<path fill="#7acc7a" d="M1250,22 L1335,22 L1330,45 L1260,45 Z"/><path fill="#a8c8ff" d="M1262,26 L1320,26 L1316,40 L1268,40 Z"/>
<path fill="#b4b4b4" d="M30,495 L80,472 L150,457 L250,462 L322,482 L378,452 L420,432 L475,432 L528,452 L568,476 L558,522 L522,535 L530,558 L565,582 L600,592 L640,572 L682,592 L728,624 L740,672 L695,708 L642,728 L598,728 L538,710 L470,710 L400,700 L328,680 L238,665 L150,660 L80,670 L30,675 Z"/>
<path fill="#7acc7a" d="M30,502 L80,480 L150,465 L250,470 L320,490 L380,460 L420,440 L470,440 L520,460 L560,480 L550,520 L510,530 L520,560 L560,590 L600,600 L640,580 L680,600 L720,630 L730,670 L690,700 L640,720 L600,720 L540,700 L470,700 L400,690 L330,670 L240,655 L150,650 L80,660 L30,665 Z"/>
<path fill="#a8c8ff" d="M30,508 L80,488 L150,474 L250,478 L320,498 L382,470 L420,450 L468,450 L512,468 L548,486 L540,514 L500,522 L512,566 L556,598 L600,608 L640,590 L678,608 L712,634 L720,666 L686,692 L640,710 L600,710 L542,692 L470,692 L400,682 L330,662 L240,647 L150,642 L80,652 L30,655 Z"/>
<path fill="#5c8cff" d="M430,460 L500,455 L545,485 L530,520 L470,520 L440,500 Z"/>
<ellipse fill="#0000f0" cx="470" cy="470" rx="15" ry="12"/><ellipse fill="#0000f0" cx="515" cy="495" rx="12" ry="12"/>
<path fill="#0000f0" d="M30,515 L100,495 L170,485 L250,490 L320,510 L380,535 L450,570 L500,600 L560,630 L620,640 L680,650 L690,670 L640,682 L560,672 L500,672 L440,672 L380,662 L300,652 L240,637 L160,632 L80,642 L30,642 Z"/>
<path fill="#ffe800" d="M115,530 L150,515 L200,520 L250,540 L290,545 L330,545 L370,550 L400,575 L430,600 L460,630 L455,655 L420,660 L380,640 L330,630 L290,620 L250,600 L200,595 L160,605 L120,580 Z"/>
<circle fill="#ff9000" cx="355" cy="565" r="10"/>
<path fill="#ffe800" d="M30,575 L80,568 L108,585 L100,622 L30,628 Z"/>
<path fill="#ff9000" d="M32,590 L68,582 L92,594 L84,614 L34,618 Z"/>
<path fill="#b4b4b4" d="M640,470 L695,440 L760,430 L800,420 L860,410 L905,420 L930,455 L910,505 L870,565 L825,600 L760,612 L695,600 L650,570 L630,520 Z"/>
<path fill="#7acc7a" d="M650,470 L700,450 L760,440 L800,430 L860,420 L900,430 L920,460 L900,500 L860,560 L820,590 L760,600 L700,590 L660,560 L640,520 Z"/>
<path fill="#a8c8ff" d="M660,472 L702,458 L760,448 L800,438 L858,428 L892,438 L910,462 L892,498 L854,552 L816,580 L760,590 L704,580 L668,552 L650,518 Z"/>
<path fill="#5c8cff" d="M840,440 L890,440 L900,470 L870,480 L845,470 Z"/>
<path fill="#0000f0" d="M685,490 L700,462 L745,448 L790,452 L820,470 L830,505 L810,530 L770,540 L720,535 L690,520 Z"/>
<path fill="#ffe800" d="M715,485 L730,465 L765,458 L795,470 L805,495 L785,518 L745,520 L718,505 Z"/>
<circle fill="#ff9a00" cx="765" cy="490" r="16"/>
<path fill="#7acc7a" d="M735,680 L770,675 L790,690 L770,705 L740,700 Z"/>
<path fill="#7acc7a" d="M790,680 L820,670 L840,700 L835,735 L810,745 L795,720 Z"/>
<path fill="#7acc7a" d="M820,610 L870,600 L905,620 L900,660 L860,665 L830,650 Z"/>
<path fill="#a8c8ff" d="M835,615 L870,610 L890,628 L885,650 L855,652 L840,640 Z"/>
<path fill="#b4b4b4" d="M770,625 L790,620 L800,640 L780,650 Z"/>
<path fill="#7acc7a" d="M1020,598 L1045,578 L1075,592 L1072,622 L1045,632 L1022,620 Z"/>
<circle fill="#a8c8ff" cx="1048" cy="605" r="16"/><circle fill="#0000f0" cx="1048" cy="605" r="10"/>
<circle fill="#b4b4b4" cx="1340" cy="668" r="16"/>
<path fill="#7acc7a" d="M1368,825 L1395,808 L1428,815 L1430,855 L1400,862 L1372,848 Z"/>
<path fill="#a8c8ff" d="M1380,825 L1400,815 L1425,822 L1425,848 L1400,852 Z"/>
<path fill="#7acc7a" d="M815,890 L850,882 L880,895 L910,908 L905,928 L870,930 L835,920 Z"/>
<path fill="#b4b4b4" d="M790,915 L815,905 L822,935 L800,945 Z"/>
<path fill="#b4b4b4" d="M410,760 L455,738 L540,732 L620,727 L705,742 L750,785 L770,848 L770,902 L750,955 L705,985 L620,985 L548,980 L475,960 L432,928 L410,885 L400,840 L418,810 L400,780 Z"/>
<path fill="#7acc7a" d="M420,762 L460,745 L540,740 L620,735 L700,750 L740,790 L760,850 L760,900 L740,950 L700,975 L620,975 L550,970 L480,950 L440,920 L420,880 L410,840 L430,810 L412,780 Z"/>
<path fill="#a8c8ff" d="M430,770 L465,755 L540,750 L620,745 L695,760 L732,796 L750,850 L750,900 L732,942 L696,965 L620,965 L552,960 L484,940 L448,912 L430,876 L420,840 L440,812 L424,785 Z"/>
<path fill="#0000f0" d="M435,820 L460,790 L510,775 L560,760 L620,758 L680,770 L720,800 L735,850 L735,900 L710,940 L660,955 L600,955 L540,950 L480,935 L450,910 L430,870 Z"/>
<circle fill="#0000f0" cx="445" cy="778" r="12"/>
<path fill="#ffe000" d="M442,850 L458,818 L502,786 L552,766 L612,762 L664,776 L686,828 L678,882 L656,924 L602,944 L550,944 L488,924 L456,894 Z"/>
<path fill="#ff9000" d="M452,850 L466,822 L505,793 L554,774 L610,770 L658,784 L676,830 L668,880 L648,918 L600,936 L552,936 L492,916 L464,888 Z"/>
<path fill="#ff3000" d="M490,812 L540,782 L610,777 L652,802 L652,842 L604,864 L540,862 L500,842 Z"/>
<ellipse fill="#b00000" cx="545" cy="820" rx="8" ry="5"/>
<path fill="#7acc7a" d="M215,840 L245,815 L300,808 L345,820 L362,850 L345,878 L300,885 L250,875 L220,860 Z"/>
<path fill="#a8c8ff" d="M225,840 L250,822 L300,816 L338,826 L352,850 L338,870 L300,876 L252,866 Z"/>
<path fill="#0000f0" d="M250,835 L290,825 L325,832 L338,852 L320,868 L280,866 L255,852 Z"/>
<ellipse fill="#ffe800" cx="322" cy="860" rx="8" ry="4"/>
<path fill="#7acc7a" d="M355,878 L378,868 L400,880 L398,910 L378,922 L358,910 Z"/>
<path fill="#0000f0" d="M362,882 L378,874 L394,885 L392,906 L378,914 L364,905 Z"/>
<path fill="#ff9000" d="M368,888 L380,882 L388,895 L384,908 L372,906 Z"/>
<path fill="#7acc7a" d="M312,930 L335,918 L355,930 L350,948 L325,952 Z"/><circle fill="#0000f0" cx="332" cy="936" r="9"/>
<path fill="#b4b4b4" d="M200,1000 L235,975 L320,975 L405,990 L478,1000 L530,1032 L555,1078 L540,1120 L450,1115 L380,1105 L300,1100 L245,1080 L205,1045 Z"/>
<path fill="#7acc7a" d="M210,1000 L240,985 L320,985 L400,1000 L470,1010 L520,1040 L545,1080 L530,1110 L450,1105 L380,1095 L300,1090 L250,1070 L215,1040 Z"/>
<path fill="#a8c8ff" d="M218,1002 L242,992 L320,992 L400,1008 L466,1018 L512,1046 L534,1080 L522,1102 L450,1097 L380,1087 L300,1082 L254,1062 L222,1036 Z"/>
<path fill="#0000f0" d="M222,1006 L320,1000 L420,1020 L490,1040 L520,1080 L480,1095 L380,1085 L300,1080 L250,1060 Z"/>
<path fill="#ffe800" d="M225,1012 L260,1002 L330,1006 L400,1026 L440,1050 L450,1076 L400,1086 L320,1086 L280,1076 L240,1050 Z"/>
<path fill="#ff9000" d="M240,1020 L320,1014 L400,1035 L428,1060 L380,1076 L300,1070 L250,1050 Z"/>
<circle fill="#ff3000" cx="258" cy="1026" r="12"/><circle fill="#ff3000" cx="378" cy="1052" r="12"/>
<path fill="#b4b4b4" d="M95,1160 L112,1100 L168,1085 L250,1090 L330,1080 L432,1095 L518,1100 L552,1148 L560,1222 L555,1288 L505,1310 L452,1352 L400,1355 L335,1330 L285,1310 L245,1300 L192,1260 L125,1240 L95,1205 Z"/>
<path fill="#7acc7a" d="M105,1160 L120,1110 L170,1095 L250,1100 L330,1090 L430,1105 L510,1110 L540,1150 L550,1220 L545,1280 L500,1300 L450,1340 L400,1345 L340,1320 L290,1300 L250,1290 L200,1250 L130,1230 L105,1200 Z"/>
<path fill="#a8c8ff" d="M112,1160 L126,1116 L172,1104 L250,1108 L330,1098 L428,1112 L504,1118 L532,1154 L540,1220 L536,1274 L494,1292 L446,1330 L400,1336 L342,1312 L292,1292 L252,1282 L204,1243 L134,1222 L112,1196 Z"/>
<path fill="#0000f0" d="M115,1150 L150,1115 L220,1115 L280,1140 L330,1150 L350,1130 L420,1130 L480,1140 L510,1180 L500,1230 L450,1280 L420,1300 L380,1310 L330,1290 L280,1270 L230,1240 L170,1225 L120,1200 Z"/>
<path fill="#3a6cff" d="M400,1185 L490,1180 L500,1225 L430,1235 Z"/>
<path fill="#a8c8ff" d="M500,1220 L540,1215 L550,1260 L520,1290 L500,1270 Z"/>
<path fill="#ffe800" d="M120,1150 L160,1125 L200,1140 L250,1160 L290,1190 L340,1210 L370,1240 L385,1270 L370,1290 L320,1285 L290,1270 L240,1240 L170,1225 L125,1200 Z"/>
<path fill="#ff9000" d="M125,1158 L165,1130 L210,1150 L262,1175 L302,1200 L322,1232 L310,1255 L270,1245 L230,1225 L170,1216 L130,1195 Z"/>
<path fill="#ff3000" d="M128,1162 L162,1136 L205,1152 L235,1172 L230,1200 L190,1210 L140,1195 Z"/>
<ellipse fill="#c00000" cx="155" cy="1175" rx="10" ry="7"/>
<ellipse fill="#ffe800" cx="320" cy="1147" rx="12" ry="8"/>
<path fill="#7acc7a" d="M35,1355 L80,1348 L125,1360 L120,1388 L80,1392 L35,1385 Z"/>
<path fill="#a8c8ff" d="M45,1360 L80,1355 L110,1365 L105,1382 L75,1385 L45,1378 Z"/>
<path fill="#b4b4b4" d="M70,1432 Q160,1390 262,1432 Z"/>
<path fill="#7acc7a" d="M85,1432 Q160,1400 245,1432 Z"/>
<path fill="#a8c8ff" d="M100,1432 Q160,1412 228,1432 Z"/>
<path fill="#7acc7a" d="M1055,1160 L1075,1135 L1100,1140 L1115,1170 L1100,1198 L1070,1198 Z"/>
<path fill="#a8c8ff" d="M1062,1162 L1078,1145 L1098,1150 L1105,1172 L1092,1190 L1070,1190 Z"/>
<circle fill="#0000f0" cx="1080" cy="1168" r="10"/>
</g>
<g clip-path="url(#cclip)"><use href="#coast"/></g>
</g>
<use href="#grid"/><use href="#box"/>
<text font-size="13" text-anchor="middle"><tspan x="84.3" y="65.5">30</tspan><tspan x="84.3" y="113">29</tspan><tspan x="84.3" y="160.6">28</tspan><tspan x="84.3" y="208.1">27</tspan><tspan x="84.3" y="255.6">26</tspan><tspan x="84.3" y="303.2">25</tspan><tspan x="84.3" y="350.7">24</tspan><tspan x="84.3" y="398.2">23</tspan><tspan x="84.3" y="445.7">22</tspan><tspan x="84.3" y="493.3">21</tspan><tspan x="84.3" y="540.8">20</tspan></text>
<text font-size="13" text-anchor="middle"><tspan x="37.2" y="113">-92</tspan><tspan x="84.3" y="113">-91</tspan><tspan x="131.4" y="113">-90</tspan><tspan x="178.5" y="113">-89</tspan><tspan x="225.6" y="113">-88</tspan><tspan x="272.7" y="113">-87</tspan><tspan x="319.8" y="113">-86</tspan><tspan x="366.9" y="113">-85</tspan><tspan x="414" y="113">-84</tspan><tspan x="461.1" y="113">-83</tspan><tspan x="508.2" y="113">-82</tspan></text>
<use href="#cbP"/>
<text font-size="12.5" text-anchor="middle"><tspan x="36.7" y="573.5">0.1</tspan><tspan x="84.3" y="573.5">0.2</tspan><tspan x="131.9" y="573.5">0.4</tspan><tspan x="179.5" y="573.5">0.7</tspan><tspan x="227.1" y="573.5">1.3</tspan><tspan x="274.7" y="573.5">2.5</tspan><tspan x="322.3" y="573.5">4.8</tspan><tspan x="369.9" y="573.5">9.1</tspan><tspan x="417.5" y="573.5">17.4</tspan><tspan x="465.1" y="573.5">33.1</tspan><tspan x="512.7" y="573.5">63.1</tspan></text>
<text x="165.5" y="593.8" font-size="13">Precipitation rate (mm/hr)</text>
</g>

<!-- PANEL 4 -->
<g transform="translate(0,606)">
<text x="33.3" y="36" font-size="21.5">20170602 Precipitation Quality Index</text>
<g transform="translate(30,60) scale(0.333333)">
<g clip-path="url(#dclip)" stroke-linejoin="round">
<rect x="30" y="20" width="1400" height="1412" fill="#ffe400"/>
<path fill="#0000c8" d="M30,20 L470,20 L475,62 L455,82 L440,92 L435,130 L200,130 L190,117 L160,87 L140,84 L100,94 L80,102 L30,102 Z"/>
<path fill="#ff8c00" d="M30,102 L80,102 L100,94 L140,84 L160,87 L190,117 L200,130 L185,135 L165,142 L130,150 L100,157 L30,157 Z"/>
<path fill="#ff8c00" d="M475,20 L800,20 L800,37 L812,50 L800,62 L720,70 L705,84 L690,77 L560,82 L555,100 L440,100 L440,92 L455,82 L475,62 Z"/>
<path fill="#8cc4ff" stroke="#2a50ff" stroke-width="3" d="M995,20 L1270,20 L1275,32 L1190,32 L1180,57 L1160,82 L1140,82 L1120,72 L1100,82 L1050,87 L1035,72 L1020,52 L1000,32 Z"/>
<path fill="#4a7cff" stroke="#1a3cff" stroke-width="5" d="M1255,20 L1432,20 L1432,480 L1425,470 L1418,430 L1408,400 L1405,200 L1390,182 L1365,175 L1340,152 L1320,132 L1302,100 L1285,72 L1268,45 L1258,32 Z"/>
<path fill="#8cc4ff" stroke="#2050ff" stroke-width="5" d="M1158,1200 L1165,1150 L1190,1110 L1230,1075 L1280,1045 L1340,1020 L1400,995 L1432,985 L1432,1045 L1380,1055 L1330,1070 L1290,1090 L1260,1115 L1245,1150 L1230,1185 L1200,1210 L1170,1212 Z"/>
<path fill="#8cc4ff" stroke="#2050ff" stroke-width="5" d="M1350,1200 L1380,1175 L1432,1160 L1432,1262 L1395,1265 L1360,1240 Z"/>
</g>
<g clip-path="url(#cclip)"><use href="#coast"/></g>
</g>
<use href="#grid"/><use href="#box"/>
<text font-size="13" text-anchor="middle"><tspan x="84.3" y="65.5">30</tspan><tspan x="84.3" y="113">29</tspan><tspan x="84.3" y="160.6">28</tspan><tspan x="84.3" y="208.1">27</tspan><tspan x="84.3" y="255.6">26</tspan><tspan x="84.3" y="303.2">25</tspan><tspan x="84.3" y="350.7">24</tspan><tspan x="84.3" y="398.2">23</tspan><tspan x="84.3" y="445.7">22</tspan><tspan x="84.3" y="493.3">21</tspan><tspan x="84.3" y="540.8">20</tspan></text>
<text font-size="13" text-anchor="middle"><tspan x="37.2" y="113">-92</tspan><tspan x="84.3" y="113">-91</tspan><tspan x="131.4" y="113">-90</tspan><tspan x="178.5" y="113">-89</tspan><tspan x="225.6" y="113">-88</tspan><tspan x="272.7" y="113">-87</tspan><tspan x="319.8" y="113">-86</tspan><tspan x="366.9" y="113">-85</tspan><tspan x="414" y="113">-84</tspan><tspan x="461.1" y="113">-83</tspan><tspan x="508.2" y="113">-82</tspan></text>
<g stroke="#3c3c3c" stroke-width="0.7">
<rect x="32.6" y="545" width="43.64" height="12.7" fill="#c0c0c0"/><rect x="76.24" y="545" width="43.64" height="12.7" fill="#999999"/><rect x="119.87" y="545" width="43.64" height="12.7" fill="#6abf69"/><rect x="163.51" y="545" width="43.64" height="12.7" fill="#8cc4ff"/><rect x="207.15" y="545" width="43.64" height="12.7" fill="#4c7cff"/><rect x="250.78" y="545" width="43.64" height="12.7" fill="#0000e6"/><rect x="294.42" y="545" width="43.64" height="12.7" fill="#ffe400"/><rect x="338.05" y="545" width="43.64" height="12.7" fill="#ff8c00"/><rect x="381.69" y="545" width="43.64" height="12.7" fill="#ff4000"/><rect x="425.33" y="545" width="43.64" height="12.7" fill="#cc0000"/><rect x="468.96" y="545" width="43.64" height="12.7" fill="#5c1010"/>
</g>
<path stroke="#000" stroke-width="1" d="M32.6,557.7v2.5M119.9,557.7v2.5M207.1,557.7v2.5M294.4,557.7v2.5M381.7,557.7v2.5M469,557.7v2.5"/>
<text font-size="12.5" text-anchor="middle"><tspan x="33.7" y="573">0.0</tspan><tspan x="119.9" y="573">0.2</tspan><tspan x="207.1" y="573">0.4</tspan><tspan x="294.4" y="573">0.6</tspan><tspan x="381.7" y="573">0.8</tspan><tspan x="469" y="573">1.0</tspan></text>
<text x="165.5" y="593.5" font-size="13">Precipitation Quality Index</text>
</g>

<!-- PANEL 5 -->
<g transform="translate(545.7,606)">
<text x="33.3" y="36" font-size="21.5">20170602 PMV Sensor Overpass</text>
<g transform="translate(30,60) scale(0.333333)">
<g clip-path="url(#dclip)">
<path fill="#ffd800" d="M30,168 L87,168 L87,140 L426,140 L426,112 L566,112 L566,92 L682,92 L688,80 L698,90 L712,80 L799,66 L799,112 L813,112 L818,200 L838,300 L845,360 L862,450 L880,545 L900,620 L920,670 L935,760 L952,800 L965,900 L984,930 L996,1050 L1010,1130 L1016,1177 L1030,1260 L1038,1303 L1054,1367 L1068,1432 L30,1432 Z"/>
<path fill="none" stroke="#1e5aff" stroke-width="5" stroke-linejoin="round" d="M28,168 L87,168 L87,140 L426,140 L426,112 L566,112 L566,92 L682,92 L688,80 L698,90 L712,80 L799,66 L799,112 L813,112 L818,200 L838,300 L845,360 L862,450 L880,545 L900,620 L920,670 L935,760 L952,800 L965,900 L984,930 L996,1050 L1010,1130 L1016,1177 L1030,1260 L1038,1303 L1054,1367 L1068,1436"/>
</g>
<g clip-path="url(#cclip)"><use href="#coast"/></g>
</g>
<use href="#grid"/><use href="#box"/>
<text font-size="13" text-anchor="middle"><tspan x="84.3" y="65.5">30</tspan><tspan x="84.3" y="113">29</tspan><tspan x="84.3" y="160.6">28</tspan><tspan x="84.3" y="208.1">27</tspan><tspan x="84.3" y="255.6">26</tspan><tspan x="84.3" y="303.2">25</tspan><tspan x="84.3" y="350.7">24</tspan><tspan x="84.3" y="398.2">23</tspan><tspan x="84.3" y="445.7">22</tspan><tspan x="84.3" y="493.3">21</tspan><tspan x="84.3" y="540.8">20</tspan></text>
<text font-size="13" text-anchor="middle"><tspan x="37.2" y="113">-92</tspan><tspan x="84.3" y="113">-91</tspan><tspan x="131.4" y="113">-90</tspan><tspan x="178.5" y="113">-89</tspan><tspan x="225.6" y="113">-88</tspan><tspan x="272.7" y="113">-87</tspan><tspan x="319.8" y="113">-86</tspan><tspan x="366.9" y="113">-85</tspan><tspan x="414" y="113">-84</tspan><tspan x="461.1" y="113">-83</tspan><tspan x="508.2" y="113">-82</tspan></text>
<text x="98.5" y="363" font-size="21.5">Overpass time in mins since 00:30 Z</text>
<text x="181" y="388.5" font-size="21.5">**,27,28,29 mins</text>
<text x="98.8" y="484" font-size="21.5">Sensor:</text>
<text x="191.4" y="484" font-size="21.5">0-NONE</text>
<text x="284" y="484" font-size="21.5">7-MHS</text>
<g stroke="#3c3c3c" stroke-width="0.7">
<rect x="32.6" y="545" width="34.29" height="12.7" fill="#6abf69"/><rect x="66.89" y="545" width="34.29" height="12.7" fill="#88c4ff"/><rect x="101.17" y="545" width="34.29" height="12.7" fill="#4c93ff"/><rect x="135.46" y="545" width="34.29" height="12.7" fill="#3a3aff"/><rect x="169.74" y="545" width="34.29" height="12.7" fill="#0000e6"/><rect x="204.03" y="545" width="34.29" height="12.7" fill="#ffff00"/><rect x="238.31" y="545" width="34.29" height="12.7" fill="#ffdd00"/><rect x="272.6" y="545" width="34.29" height="12.7" fill="#ff8800"/><rect x="306.89" y="545" width="34.29" height="12.7" fill="#ff4400"/><rect x="341.17" y="545" width="34.29" height="12.7" fill="#ff2200"/><rect x="375.46" y="545" width="34.29" height="12.7" fill="#c80000"/><rect x="409.74" y="545" width="34.29" height="12.7" fill="#a00a00"/><rect x="444.03" y="545" width="34.29" height="12.7" fill="#601008"/><rect x="478.31" y="545" width="34.29" height="12.7" fill="#5a1008"/>
</g>
<path stroke="#000" stroke-width="1" d="M32.6,557.7v2.5M101.2,557.7v2.5M169.7,557.7v2.5M238.3,557.7v2.5M306.9,557.7v2.5M375.5,557.7v2.5M444,557.7v2.5M512.6,557.7v2.5"/>
<text font-size="12.5" text-anchor="middle"><tspan x="34.3" y="573">1</tspan><tspan x="102" y="573">3</tspan><tspan x="170.5" y="573">5</tspan><tspan x="238.8" y="573">7</tspan><tspan x="307.2" y="573">9</tspan><tspan x="375.5" y="573">11</tspan><tspan x="444" y="573">13</tspan><tspan x="512.6" y="573">15</tspan></text>
<text x="165.5" y="593.5" font-size="13">Satellite Sensor Index</text>
</g>

<!-- PANEL 6 -->
<g transform="translate(1091.4,606)">
<text x="33.3" y="36" font-size="21.5">20170602 IR Kalman Weight</text>
<g transform="translate(30,60) scale(0.333333)">
<g clip-path="url(#dclip)">
<rect x="30" y="20" width="1400" height="1412" fill="#c5c5c5"/>
<g filter="url(#bl)" fill="#b2b2b2">
<ellipse cx="1100" cy="385" rx="150" ry="50"/>
<ellipse cx="1010" cy="360" rx="60" ry="30"/>
<ellipse cx="760" cy="494" rx="30" ry="18"/>
<ellipse cx="230" cy="615" rx="190" ry="50"/>
<ellipse cx="570" cy="830" rx="120" ry="90"/>
<ellipse cx="330" cy="1060" rx="115" ry="38"/>
<ellipse cx="250" cy="1230" rx="185" ry="75"/>
<ellipse cx="290" cy="215" rx="70" ry="25"/>
<ellipse cx="640" cy="300" rx="30" ry="18"/>
<ellipse cx="300" cy="860" rx="50" ry="25"/>
</g>
<g filter="url(#bl)" fill="#a8a8a8">
<ellipse cx="1100" cy="380" rx="75" ry="28"/>
<ellipse cx="570" cy="830" rx="70" ry="50"/>
<ellipse cx="150" cy="1180" rx="55" ry="35"/>
</g>
<g fill="#7ed27e" stroke="#98b898" stroke-width="5" stroke-linejoin="round">
<path d="M505,792 L540,774 L600,777 L632,800 L630,838 L592,855 L540,852 L506,834 L498,810 Z"/>
<path d="M122,1150 L150,1138 L178,1150 L190,1175 L175,1200 L145,1205 L122,1190 L118,1168 Z"/>
<circle cx="240" cy="1028" r="12"/><circle cx="367" cy="1060" r="12"/>
<circle cx="256" cy="194" r="9"/><circle cx="319" cy="168" r="9"/><circle cx="168" cy="285" r="9"/>
</g>
</g>
<g clip-path="url(#cclip)"><use href="#coast"/></g>
</g>
<use href="#grid"/><use href="#box"/>
<text font-size="13" text-anchor="middle"><tspan x="84.3" y="65.5">30</tspan><tspan x="84.3" y="113">29</tspan><tspan x="84.3" y="160.6">28</tspan><tspan x="84.3" y="208.1">27</tspan><tspan x="84.3" y="255.6">26</tspan><tspan x="84.3" y="303.2">25</tspan><tspan x="84.3" y="350.7">24</tspan><tspan x="84.3" y="398.2">23</tspan><tspan x="84.3" y="445.7">22</tspan><tspan x="84.3" y="493.3">21</tspan><tspan x="84.3" y="540.8">20</tspan></text>
<text font-size="13" text-anchor="middle"><tspan x="37.2" y="113">-92</tspan><tspan x="84.3" y="113">-91</tspan><tspan x="131.4" y="113">-90</tspan><tspan x="178.5" y="113">-89</tspan><tspan x="225.6" y="113">-88</tspan><tspan x="272.7" y="113">-87</tspan><tspan x="319.8" y="113">-86</tspan><tspan x="366.9" y="113">-85</tspan><tspan x="414" y="113">-84</tspan><tspan x="461.1" y="113">-83</tspan><tspan x="508.2" y="113">-82</tspan></text>
<g stroke="#3c3c3c" stroke-width="0.7">
<rect x="32.6" y="545" width="9.6" height="12.7" fill="#bebebe"/><rect x="42.2" y="545" width="9.6" height="12.7" fill="#b8b8b8"/><rect x="51.8" y="545" width="9.6" height="12.7" fill="#b2b2b2"/><rect x="61.4" y="545" width="9.6" height="12.7" fill="#acacac"/><rect x="71" y="545" width="9.6" height="12.7" fill="#a6a6a6"/><rect x="80.6" y="545" width="9.6" height="12.7" fill="#a0a0a0"/><rect x="90.2" y="545" width="9.6" height="12.7" fill="#9a9a9a"/><rect x="99.8" y="545" width="9.6" height="12.7" fill="#949494"/>
<rect x="109.4" y="545" width="9.6" height="12.7" fill="#8ae68a"/><rect x="119" y="545" width="9.6" height="12.7" fill="#84de84"/><rect x="128.6" y="545" width="9.6" height="12.7" fill="#7ed67e"/><rect x="138.2" y="545" width="9.6" height="12.7" fill="#78ce78"/><rect x="147.8" y="545" width="9.6" height="12.7" fill="#72c672"/><rect x="157.4" y="545" width="9.6" height="12.7" fill="#6cbe6c"/><rect x="167" y="545" width="9.6" height="12.7" fill="#66b666"/>
<rect x="176.6" y="545" width="9.6" height="12.7" fill="#c8d8ff"/><rect x="186.2" y="545" width="9.6" height="12.7" fill="#b4ccff"/><rect x="195.8" y="545" width="9.6" height="12.7" fill="#a0c4ff"/><rect x="205.4" y="545" width="9.6" height="12.7" fill="#8cc0ff"/><rect x="215" y="545" width="9.6" height="12.7" fill="#84bcff"/><rect x="224.6" y="545" width="9.6" height="12.7" fill="#78b4ff"/><rect x="234.2" y="545" width="9.6" height="12.7" fill="#62acff"/><rect x="243.8" y="545" width="9.6" height="12.7" fill="#58a0ff"/><rect x="253.4" y="545" width="9.6" height="12.7" fill="#4e90ff"/><rect x="263" y="545" width="9.6" height="12.7" fill="#4880ff"/><rect x="272.6" y="545" width="9.6" height="12.7" fill="#4070ff"/><rect x="282.2" y="545" width="9.6" height="12.7" fill="#3a58ff"/>
<rect x="291.8" y="545" width="9.6" height="12.7" fill="#0000ff"/><rect x="301.4" y="545" width="9.6" height="12.7" fill="#0000f6"/><rect x="311" y="545" width="9.6" height="12.7" fill="#0000ec"/><rect x="320.6" y="545" width="9.6" height="12.7" fill="#0000e2"/><rect x="330.2" y="545" width="9.6" height="12.7" fill="#0000d8"/><rect x="339.8" y="545" width="9.6" height="12.7" fill="#0000ce"/><rect x="349.4" y="545" width="9.6" height="12.7" fill="#0000c4"/>
<rect x="359" y="545" width="9.6" height="12.7" fill="#ffff00"/><rect x="368.6" y="545" width="9.6" height="12.7" fill="#fff400"/><rect x="378.2" y="545" width="9.6" height="12.7" fill="#ffea00"/><rect x="387.8" y="545" width="9.6" height="12.7" fill="#ffe000"/><rect x="397.4" y="545" width="9.6" height="12.7" fill="#ffd800"/><rect x="407" y="545" width="9.6" height="12.7" fill="#ffd000"/>
<rect x="416.6" y="545" width="9.6" height="12.7" fill="#ffa000"/><rect x="426.2" y="545" width="9.6" height="12.7" fill="#ff9800"/><rect x="435.8" y="545" width="9.6" height="12.7" fill="#ff9000"/><rect x="445.4" y="545" width="9.6" height="12.7" fill="#ff8800"/><rect x="455" y="545" width="9.6" height="12.7" fill="#ff8400"/><rect x="464.6" y="545" width="9.6" height="12.7" fill="#ff7c00"/>
<rect x="474.2" y="545" width="9.6" height="12.7" fill="#ff5000"/><rect x="483.8" y="545" width="9.6" height="12.7" fill="#ff4400"/><rect x="493.4" y="545" width="9.6" height="12.7" fill="#ff3800"/><rect x="503" y="545" width="9.6" height="12.7" fill="#ff2c00"/>
</g>
<path stroke="#000" stroke-width="1" d="M32.6,557.7v2.5M80.6,557.7v2.5M128.6,557.7v2.5M176.6,557.7v2.5M224.6,557.7v2.5M272.6,557.7v2.5M320.6,557.7v2.5M368.6,557.7v2.5M416.6,557.7v2.5M464.6,557.7v2.5M512.6,557.7v2.5"/>
<text font-size="12.5" text-anchor="middle"><tspan x="35.3" y="573">0</tspan><tspan x="80.6" y="573">10</tspan><tspan x="128.6" y="573">20</tspan><tspan x="176.6" y="573">30</tspan><tspan x="224.6" y="573">40</tspan><tspan x="272.6" y="573">50</tspan><tspan x="320.6" y="573">60</tspan><tspan x="368.6" y="573">70</tspan><tspan x="416.6" y="573">80</tspan><tspan x="464.6" y="573">90</tspan><tspan x="512.6" y="573">**</tspan></text>
<text x="165.5" y="593.5" font-size="13">Percentage (%)</text>
</g>
</svg>
</body></html>
